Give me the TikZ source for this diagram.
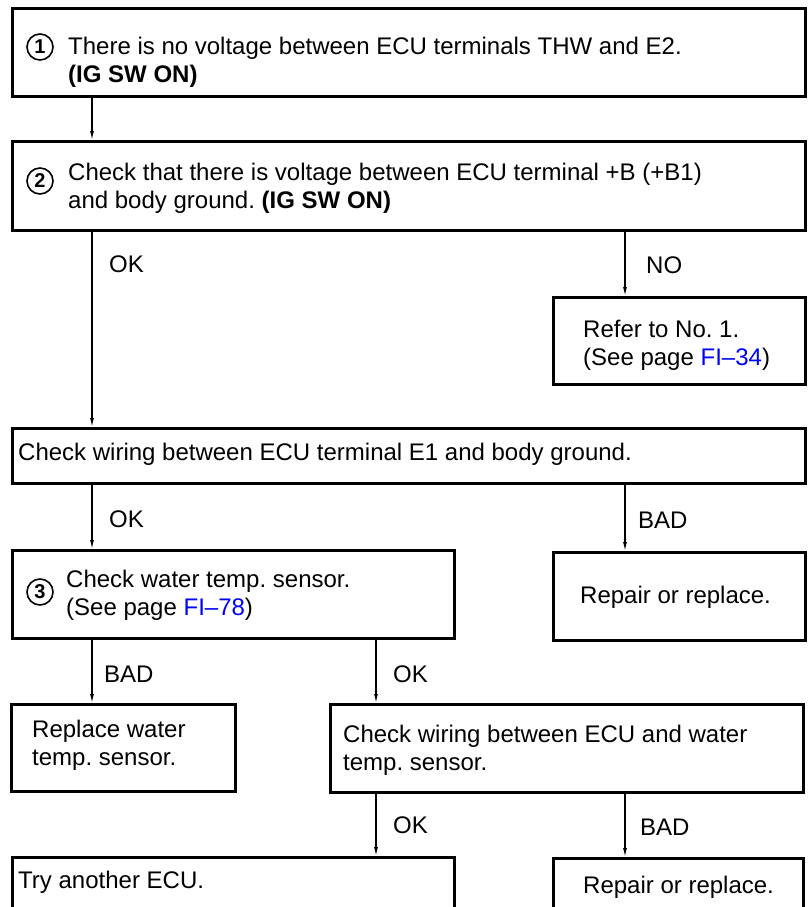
\documentclass[tikz,border=0pt]{standalone}
\usepackage{fontspec}
\setmainfont{Liberation Sans}
\usetikzlibrary{arrows.meta}
\definecolor{linkblue}{HTML}{0000FF}
\frenchspacing
\tikzset{box/.style={draw, line width=2.6pt, anchor=north west, inner sep=0pt}, flow/.style={-{Latex[length=9pt,width=4pt]}, line width=1.2pt}, txt/.style={anchor=base west, inner sep=0pt, align=left, font=\fontsize{24}{28}\selectfont}, lab/.style={txt}, num/.style={draw, circle, line width=1.6pt, minimum size=26pt, inner sep=0pt, font=\fontsize{20}{20}\selectfont\bfseries}}
\newcommand{\pg}[1]{\textcolor{linkblue}{#1}}

\begin{document}
\begin{tikzpicture}[x=1pt,y=-1pt]
\clip (0,0) rectangle (807,907);
\fill[white] (0,0) rectangle (807,907);
\coordinate (colA) at (92,0); \coordinate (colB) at (376,0); \coordinate (colC) at (625,0);
\node[box, minimum width=793pt, minimum height=88pt] (step1) at (11,7) {};
\node[num] (n1) at (40,47) {1}; \node[txt] (step1-t) at (68,82) {There is no voltage between ECU terminals THW and E2.\\\textbf{(IG SW ON)}};
\node[box, minimum width=793pt, minimum height=89pt] (step2) at (11,140) {};
\node[num] (n2) at (40,181) {2}; \node[txt] (step2-t) at (68,208) {Check that there is voltage between ECU terminal +B (+B1)\\and body ground. \textbf{(IG SW ON)}};
\node[box, minimum width=252pt, minimum height=87pt] (refer) at (552,296) {};
\node[txt] (refer-t) at (583,365) {Refer to No. 1.\\(See page \pg{FI--34})};
\node[box, minimum width=793pt, minimum height=55pt] (wireE) at (11,427) {};
\node[txt] (wireE-t) at (18,460) {Check wiring between ECU terminal E1 and body ground.};
\node[box, minimum width=442pt, minimum height=88pt] (step3) at (11,549) {};
\node[num] (n3) at (40,592) {3}; \node[txt] (step3-t) at (66,615) {Check water temp. sensor.\\(See page \pg{FI--78})};
\node[box, minimum width=252pt, minimum height=88pt] (fix1) at (552,551) {};
\node[txt] (fix1-t) at (580,603) {Repair or replace.};
\node[box, minimum width=224pt, minimum height=87pt] (sensor) at (10,703) {};
\node[txt] (sensor-t) at (32,765) {Replace water\\temp. sensor.};
\node[box, minimum width=473pt, minimum height=88pt] (wireS) at (329,703) {};
\node[txt] (wireS-t) at (343,770) {Check wiring between ECU and water\\temp. sensor.};
\node[box, minimum width=442pt, minimum height=80pt] (ecu) at (11,856) {};
\node[txt] (ecu-t) at (18,888) {Try another ECU.};
\node[box, minimum width=250pt, minimum height=80pt] (fix2) at (552,857) {};
\node[txt] (fix2-t) at (583,893) {Repair or replace.};
\draw[flow] (step1.south -| colA) -- (step2.north -| colA);
\draw[flow] (step2.south -| colA) -- (wireE.north -| colA); \node[lab] (ok1) at (109,272) {OK};
\draw[flow] (step2.south -| colC) -- (refer.north -| colC); \node[lab] (no1) at (646,273) {NO};
\draw[flow] (wireE.south -| colA) -- (step3.north -| colA); \node[lab] (ok2) at (109,527) {OK};
\draw[flow] (wireE.south -| colC) -- (fix1.north -| colC); \node[lab] (bad1) at (638,528) {BAD};
\draw[flow] (step3.south -| colA) -- (sensor.north -| colA); \node[lab] (bad2) at (104,682) {BAD};
\draw[flow] (step3.south -| colB) -- (wireS.north -| colB); \node[lab] (ok3) at (393,682) {OK};
\draw[flow] (wireS.south -| colB) -- (ecu.north -| colB); \node[lab] (ok4) at (393,833) {OK};
\draw[flow] (wireS.south -| colC) -- (fix2.north -| colC); \node[lab] (bad3) at (640,835) {BAD};
\end{tikzpicture}
\end{document}
